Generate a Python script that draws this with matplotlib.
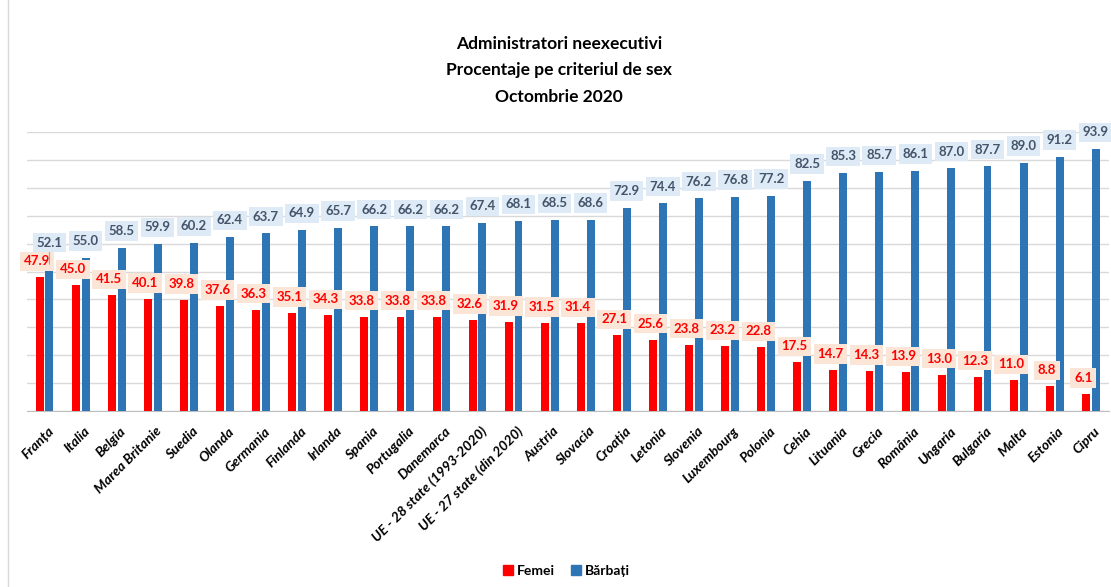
import matplotlib.pyplot as plt
import numpy as np
from matplotlib.lines import Line2D
from matplotlib.patches import Patch

plt.rcParams["font.family"] = ["Lato", "DejaVu Sans"]

countries = [
    "Franța", "Italia", "Belgia", "Marea Britanie", "Suedia", "Olanda", "Germania",
    "Finlanda", "Irlanda", "Spania", "Portugalia", "Danemarca",
    "UE - 28 state (1993-2020)", "UE - 27 state (din 2020)", "Austria", "Slovacia",
    "Croația", "Letonia", "Slovenia", "Luxembourg", "Polonia", "Cehia", "Lituania",
    "Grecia", "România", "Ungaria", "Bulgaria", "Malta", "Estonia", "Cipru",
]
femei = [47.9, 45.0, 41.5, 40.1, 39.8, 37.6, 36.3, 35.1, 34.3, 33.8, 33.8, 33.8,
         32.6, 31.9, 31.5, 31.4, 27.1, 25.6, 23.8, 23.2, 22.8, 17.5, 14.7, 14.3,
         13.9, 13.0, 12.3, 11.0, 8.8, 6.1]
barbati = [52.1, 55.0, 58.5, 59.9, 60.2, 62.4, 63.7, 64.9, 65.7, 66.2, 66.2, 66.2,
           67.4, 68.1, 68.5, 68.6, 72.9, 74.4, 76.2, 76.8, 77.2, 82.5, 85.3, 85.7,
           86.1, 87.0, 87.7, 89.0, 91.2, 93.9]

RED = "#FF0000"
BLUE = "#2E75B6"

fig = plt.figure(figsize=(11.11, 5.87), dpi=100)
ax = fig.add_axes([0.0239, 0.2998, 0.9742, 0.4753])

x = np.arange(len(countries))
w = 0.22
off = 0.135
ax.bar(x - off, femei, w, color=RED, zorder=3)
ax.bar(x + off, barbati, w, color=BLUE, zorder=3)

ax.set_xlim(-0.5, len(countries) - 0.5)
ax.set_ylim(0, 100)
ax.set_yticks(np.arange(0, 101, 10))
ax.yaxis.grid(True, color="#D9D9D9", linewidth=1)
ax.set_axisbelow(True)
ax.tick_params(axis="y", left=False, labelleft=False)
ax.tick_params(axis="x", length=0, pad=10)
for s in ["top", "right", "left"]:
    ax.spines[s].set_visible(False)
ax.spines["bottom"].set_color("#BFBFBF")

ax.set_xticks(x + 0.08)
ax.set_xticklabels(countries, rotation=45, ha="right", rotation_mode="anchor",
                   fontsize=10, fontweight="bold", fontstyle="italic")

for i, (f, b) in enumerate(zip(femei, barbati)):
    ax.annotate(f"{f:.1f}", (i - off, f), xytext=(-2, 11.5), textcoords="offset points",
                ha="center", va="center", fontsize=9.5, fontweight="bold", color=RED,
                bbox=dict(boxstyle="square,pad=0.28", fc="#FBE5D6", ec="none"),
                annotation_clip=False, zorder=5)
    dy = 16.5 if i == 0 else 12
    ax.annotate(f"{b:.1f}", (i + off, b), xytext=(0, dy), textcoords="offset points",
                ha="center", va="center", fontsize=9.5, fontweight="bold", color="#44546A",
                bbox=dict(boxstyle="square,pad=0.28", fc="#DEEBF7", ec="none"),
                arrowprops=dict(arrowstyle="-", color="#A6A6A6", lw=0.8,
                                shrinkA=0, shrinkB=1) if i == 0 else None,
                annotation_clip=False, zorder=5)

fig.text(0.503, 0.88, "Administratori neexecutivi\nProcentaje pe criteriul de sex\nOctombrie 2020",
         ha="center", va="center", fontsize=12.5, fontweight="bold", linespacing=1.8)

handles = [Patch(color=RED, label="Femei"), Patch(color=BLUE, label="Bărbați")]
fig.legend(handles=handles, loc="center", bbox_to_anchor=(0.51, 0.028), ncol=2,
           frameon=False, handlelength=0.7, handleheight=0.7, handletextpad=0.3,
           columnspacing=1.2, prop=dict(weight="bold", size=10))

fig.add_artist(Line2D([0.0075, 0.0075], [0, 1], transform=fig.transFigure,
                      color="#D9D9D9", linewidth=1))

fig.savefig("out.png", dpi=100)
